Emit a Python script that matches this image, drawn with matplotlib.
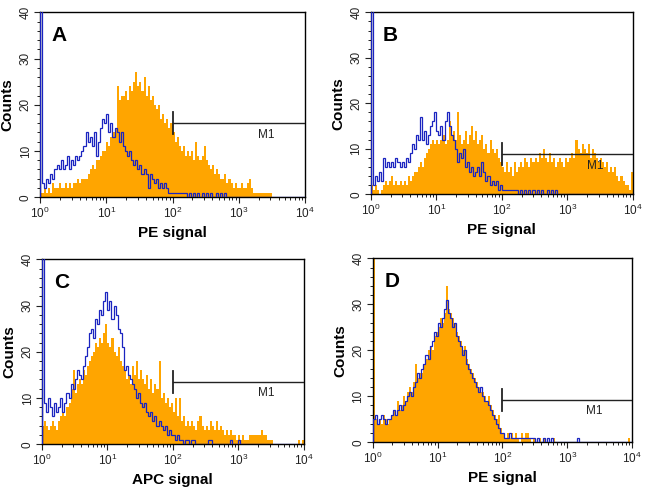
import matplotlib
matplotlib.use("Agg")
import matplotlib.pyplot as plt
import numpy as np
from matplotlib.ticker import FixedLocator, LogLocator, MultipleLocator, NullFormatter

plt.rcParams['font.family'] = ['Liberation Sans', 'DejaVu Sans']

###############################
###          DATA           ###
###############################
# 128 channels over 4 decades (32 per decade), counts
channel_edges = 10 ** (np.arange(129) / 32.0)

a_sample = [1, 1, 2, 1, 2, 1, 3, 2, 2, 3, 2, 2, 3, 2, 3, 2,
            3, 3, 4, 3, 4, 4, 4, 5, 6, 7, 6, 8, 8, 9, 10, 10,
            12, 11, 13, 14, 15, 24, 21, 22, 22, 23, 21, 24, 23, 25, 27, 24,
            25, 23, 26, 22, 24, 21, 22, 20, 19, 20, 17, 18, 16, 17, 15, 16,
            14, 12, 13, 11, 10, 11, 9, 10, 9, 10, 8, 12, 9, 8, 9, 11,
            8, 7, 6, 7, 5, 6, 5, 4, 4, 5, 3, 4, 3, 2, 3, 2,
            2, 3, 2, 2, 3, 4, 2, 1, 1, 1, 1, 1, 1, 1, 1, 1,
            0, 0, 0, 0, 0, 0, 0, 0, 0, 0, 0, 0, 0, 0, 0, 0]
a_control = [45, 3, 2, 4, 3, 5, 4, 6, 7, 6, 8, 6, 7, 9, 6, 8,
             7, 9, 8, 9, 10, 11, 14, 12, 13, 11, 14, 9, 12, 15, 17, 16,
             18, 14, 16, 13, 15, 14, 12, 14, 11, 10, 9, 10, 8, 7, 8, 6,
             7, 5, 6, 5, 2, 5, 4, 3, 4, 2, 3, 2, 3, 2, 1, 1,
             1, 1, 1, 1, 1, 1, 1, 0, 1, 0, 1, 0, 1, 0, 1, 0,
             1, 0, 1, 0, 0, 1, 0, 1, 0, 1, 0, 0, 0, 0, 0, 0,
             0, 0, 0, 0, 0, 0, 0, 0, 0, 0, 0, 0, 0, 0, 0, 0,
             0, 0, 0, 0, 0, 0, 0, 0, 0, 0, 0, 0, 0, 0, 0, 0]

b_sample = [2, 1, 2, 1, 0, 1, 2, 3, 2, 3, 4, 2, 3, 2, 3, 2,
            3, 2, 4, 3, 4, 5, 5, 6, 7, 6, 8, 9, 10, 11, 12, 11,
            12, 11, 12, 13, 11, 12, 16, 13, 14, 12, 18, 13, 11, 12, 14, 11,
            13, 15, 12, 14, 11, 12, 13, 10, 11, 9, 12, 10, 9, 10, 8, 7,
            6, 5, 7, 5, 6, 4, 7, 5, 6, 7, 6, 8, 7, 6, 8, 7,
            8, 7, 9, 8, 10, 8, 7, 9, 7, 8, 6, 7, 8, 7, 6, 8,
            7, 8, 9, 8, 12, 10, 9, 11, 10, 9, 11, 8, 10, 9, 8, 7,
            8, 7, 6, 7, 5, 6, 5, 6, 4, 3, 4, 3, 2, 2, 1, 5]
b_control = [45, 2, 4, 3, 5, 3, 8, 6, 7, 6, 7, 6, 8, 7, 6, 7,
             6, 8, 7, 9, 11, 10, 13, 12, 17, 12, 14, 11, 13, 15, 16, 18,
             14, 13, 15, 12, 16, 18, 15, 13, 12, 10, 7, 9, 8, 10, 6, 7,
             5, 6, 4, 5, 6, 4, 7, 5, 3, 4, 2, 3, 2, 3, 1, 2,
             1, 1, 1, 1, 1, 1, 1, 1, 0, 1, 0, 1, 0, 1, 0, 1,
             0, 1, 0, 1, 0, 0, 1, 0, 1, 0, 1, 0, 0, 0, 0, 0,
             0, 0, 0, 0, 0, 0, 0, 0, 0, 0, 0, 0, 0, 0, 0, 0,
             0, 0, 0, 0, 0, 0, 0, 0, 0, 0, 0, 0, 0, 0, 0, 0]

c_sample = [4, 5, 4, 3, 4, 5, 4, 3, 5, 6, 7, 6, 8, 9, 12, 16,
            11, 13, 14, 13, 16, 15, 17, 18, 19, 20, 22, 21, 23, 22, 24, 26,
            22, 21, 23, 20, 19, 21, 18, 17, 16, 14, 15, 13, 17, 15, 18, 14,
            16, 14, 13, 15, 12, 14, 11, 13, 12, 18, 10, 11, 9, 10, 8, 9,
            7, 10, 6, 10, 5, 6, 4, 5, 4, 5, 4, 3, 5, 6, 4, 3,
            4, 3, 5, 4, 3, 5, 3, 4, 3, 2, 3, 2, 3, 2, 2, 1,
            2, 1, 2, 1, 1, 2, 2, 2, 2, 2, 2, 3, 2, 2, 1, 1,
            1, 0, 0, 0, 0, 0, 0, 0, 0, 0, 0, 0, 0, 1, 0, 1]
c_control = [45, 9, 7, 10, 8, 6, 9, 7, 8, 10, 7, 9, 11, 10, 13, 12,
             14, 16, 15, 14, 17, 19, 21, 24, 25, 23, 27, 26, 29, 28, 31, 33,
             29, 31, 27, 30, 28, 25, 24, 21, 16, 17, 15, 14, 13, 12, 10, 11,
             9, 8, 9, 7, 6, 7, 5, 6, 4, 5, 4, 3, 4, 2, 3, 2,
             2, 1, 2, 1, 1, 0, 1, 1, 0, 1, 1, 0, 0, 0, 0, 0,
             0, 1, 1, 0, 0, 0, 0, 0, 0, 0, 0, 0, 1, 0, 0, 0,
             1, 0, 0, 0, 0, 0, 0, 0, 0, 0, 0, 0, 0, 0, 0, 0,
             0, 0, 0, 0, 0, 0, 0, 0, 0, 0, 0, 0, 0, 0, 0, 0]

d_sample = [45, 5, 4, 5, 4, 6, 5, 4, 5, 6, 7, 6, 9, 7, 8, 10,
            9, 11, 12, 11, 13, 17, 14, 15, 15, 17, 18, 20, 21, 20, 23, 24,
            25, 27, 26, 28, 34, 29, 28, 27, 26, 24, 23, 22, 20, 21, 18, 17,
            16, 15, 14, 13, 12, 11, 11, 10, 9, 10, 8, 7, 6, 5, 6, 3,
            2, 1, 2, 1, 2, 1, 2, 1, 0, 2, 1, 2, 2, 1, 0, 1,
            0, 0, 1, 0, 1, 0, 0, 0, 0, 1, 0, 0, 0, 0, 0, 0,
            0, 0, 0, 0, 0, 0, 0, 0, 0, 0, 0, 0, 0, 0, 0, 0,
            0, 0, 0, 0, 0, 0, 0, 0, 0, 0, 0, 0, 0, 0, 1, 0]
d_control = [5, 6, 4, 5, 6, 5, 4, 5, 5, 6, 7, 6, 7, 8, 7, 8,
             9, 10, 11, 10, 12, 13, 15, 14, 16, 17, 19, 18, 21, 22, 24, 23,
             26, 25, 27, 29, 31, 28, 27, 25, 26, 23, 22, 21, 19, 20, 17, 16,
             15, 14, 13, 12, 11, 12, 10, 9, 9, 8, 7, 6, 5, 4, 3, 2,
             2, 1, 1, 2, 1, 1, 1, 1, 1, 1, 1, 1, 1, 1, 1, 1,
             0, 1, 0, 0, 1, 0, 1, 0, 1, 0, 0, 0, 0, 0, 0, 0,
             0, 0, 0, 0, 0, 1, 0, 0, 0, 0, 0, 0, 0, 0, 0, 0,
             0, 0, 0, 0, 0, 0, 0, 0, 0, 0, 0, 0, 0, 0, 0, 0]

panel_letters = ["A", "B", "C", "D"]
x_labels = ["PE signal", "PE signal", "APC signal", "PE signal"]
m1_levels = [16.0, 8.8, 13.5, 9.2]
samples = [a_sample, b_sample, c_sample, d_sample]
controls = [a_control, b_control, c_control, d_control]

###############################
###         STYLE           ###
###############################
ORANGE = "#FFA500"
BLUE = "#1A24C0"
positions = [[0.062, 0.600, 0.411, 0.375],
             [0.575, 0.606, 0.406, 0.369],
             [0.065, 0.099, 0.406, 0.375],
             [0.578, 0.103, 0.402, 0.373]]

fig = plt.figure(figsize=(6.45, 4.93), dpi=100)

for i in range(4):
    ax = fig.add_axes(positions[i])

    # histograms
    ax.stairs(samples[i], channel_edges, fill=True, color=ORANGE, lw=0, zorder=1)
    ax.stairs(controls[i], channel_edges, color=BLUE, lw=0.9, zorder=3)

    ax.set_xscale('log')
    ax.set_xlim(1, 1e4)
    ax.set_ylim(0, 40)

    # M1 gate marker
    m1 = m1_levels[i]
    ax.plot([100, 1e4], [m1, m1], color='#222222', lw=1.0, zorder=4)
    ax.plot([100, 100], [m1 - 2.4, m1 + 2.4], color='#222222', lw=1.3, zorder=4)
    ax.text(10 ** 3.42, m1 - 2.5, "M1", ha='center', va='center', fontsize=8.5, color='#222222')

    ax.text(0.045, 0.925, panel_letters[i], transform=ax.transAxes,
            ha='left', va='top', fontsize=15, fontweight='bold')

    # ticks
    ax.xaxis.set_major_locator(FixedLocator([1, 10, 100, 1000, 10000]))
    ax.set_xticklabels(['$\\mathregular{10^{%d}}$' % k for k in range(5)])
    ax.xaxis.set_minor_locator(LogLocator(base=10, subs=np.arange(2, 10)))
    ax.xaxis.set_minor_formatter(NullFormatter())
    ax.yaxis.set_major_locator(MultipleLocator(10))
    ax.yaxis.set_minor_locator(MultipleLocator(2))
    ax.tick_params(which='major', direction='out', length=4, width=0.8,
                   labelsize=8.5, colors='#222222', pad=2)
    ax.tick_params(which='minor', direction='out', length=2, width=0.6)
    for lab in ax.get_yticklabels():
        lab.set_rotation(90)
        lab.set_va('center')

    for s in ax.spines.values():
        s.set_linewidth(1.0)

    ax.set_xlabel(x_labels[i], fontsize=11, fontweight='bold', labelpad=4)
    ax.set_ylabel("Counts", fontsize=11, fontweight='bold', labelpad=4)

fig.savefig("out.png", dpi=100)
